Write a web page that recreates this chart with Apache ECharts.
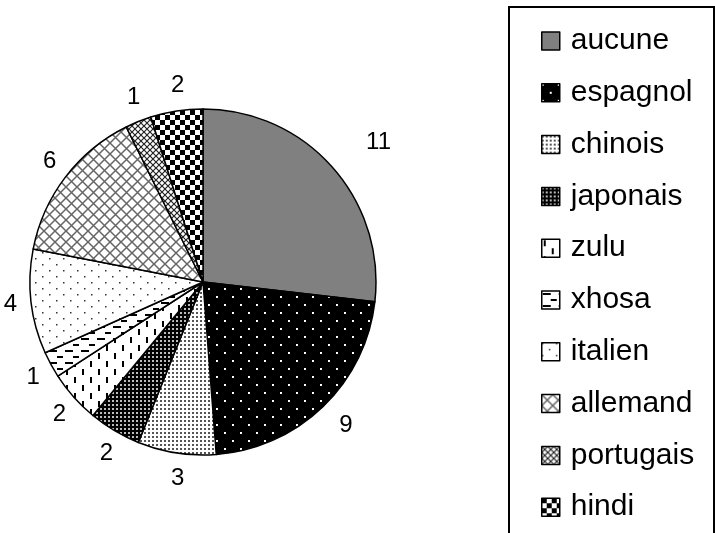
<!DOCTYPE html>
<html>
<head>
<meta charset="utf-8">
<script src="https://cdn.jsdelivr.net/npm/echarts@6/dist/echarts.min.js"></script>
<style>
  html, body { margin: 0; padding: 0; background: #fff; }
  #chart { width: 715px; height: 533px; }
</style>
</head>
<body>
<div id="chart"></div>
<script>
// langues et nombre d'eleves
const languages = ['aucune', 'espagnol', 'chinois', 'japonais', 'zulu', 'xhosa', 'italien', 'allemand', 'portugais', 'hindi']
const counts = [11, 9, 3, 2, 2, 1, 4, 6, 1, 2]

// petites tuiles de motif (style noir et blanc)
function makePattern(w, h, bg, draw) {
  let c = document.createElement('canvas')
  c.width = w
  c.height = h
  let ctx = c.getContext('2d')
  ctx.fillStyle = bg
  ctx.fillRect(0, 0, w, h)
  if (draw) draw(ctx)
  return { image: c, repeat: 'repeat' }
}

const patterns = [
  // aucune : gris plein
  '#808080',
  // espagnol : noir, points blancs espaces
  makePattern(16, 16, '#000', ctx => {
    ctx.fillStyle = '#fff'
    ctx.fillRect(0, 0, 2, 2)
    ctx.fillRect(8, 8, 2, 2)
  }),
  // chinois : blanc, points gris serres
  makePattern(4, 4, '#fff', ctx => {
    ctx.fillStyle = '#555'
    ctx.fillRect(0, 0, 2, 2)
  }),
  // japonais : noir, points blancs serres
  makePattern(4, 4, '#000', ctx => {
    ctx.fillStyle = '#bbb'
    ctx.fillRect(0, 0, 2, 2)
  }),
  // zulu : tirets verticaux
  makePattern(16, 16, '#fff', ctx => {
    ctx.fillStyle = '#000'
    ctx.fillRect(2, 1, 2, 6)
    ctx.fillRect(10, 9, 2, 6)
  }),
  // xhosa : tirets horizontaux
  makePattern(16, 12, '#fff', ctx => {
    ctx.fillStyle = '#000'
    ctx.fillRect(1, 2, 8, 2)
    ctx.fillRect(9, 8, 6, 2)
  }),
  // italien : petits points clairsemes
  makePattern(14, 12, '#fff', ctx => {
    ctx.fillStyle = '#333'
    ctx.fillRect(0, 0, 1.5, 1.5)
    ctx.fillRect(7, 6, 1.5, 1.5)
  }),
  // allemand : quadrillage diagonal gris
  makePattern(11, 11, '#fff', ctx => {
    ctx.strokeStyle = '#666'
    ctx.lineWidth = 1.5
    ctx.beginPath()
    ctx.moveTo(0, 0); ctx.lineTo(11, 11)
    ctx.moveTo(11, 0); ctx.lineTo(0, 11)
    ctx.stroke()
  }),
  // portugais : quadrillage diagonal fin
  makePattern(6, 6, '#fff', ctx => {
    ctx.strokeStyle = '#222'
    ctx.lineWidth = 1.2
    ctx.beginPath()
    ctx.moveTo(0, 0); ctx.lineTo(6, 6)
    ctx.moveTo(6, 0); ctx.lineTo(0, 6)
    ctx.stroke()
  }),
  // hindi : damier
  makePattern(10, 10, '#fff', ctx => {
    ctx.fillStyle = '#000'
    ctx.fillRect(0, 0, 5, 5)
    ctx.fillRect(5, 5, 5, 5)
  })
]

const pieData = languages.map((name, i) => ({
  name: name,
  value: counts[i],
  itemStyle: { color: patterns[i] }
}))

// etiquettes : la plus grosse part a son etiquette un peu plus loin (comme Excel)
const labelData = languages.map((name, i) => {
  let item = { name: name, value: counts[i] }
  if (i === 0) item.label = { offset: [22, -7] }
  return item
})

const chart = echarts.init(document.getElementById('chart'))
chart.setOption({
  animation: false,
  backgroundColor: '#fff',
  textStyle: { fontFamily: 'Liberation Sans, Arial, sans-serif' },
  // cadre de la legende
  graphic: [{
    type: 'rect',
    shape: { x: 509, y: 7, width: 205, height: 540 },
    style: { fill: 'none', stroke: '#000', lineWidth: 2 },
    silent: true
  }],
  legend: {
    orient: 'vertical',
    left: 536,
    top: 21,
    icon: 'rect',
    itemWidth: 18,
    itemHeight: 18,
    itemGap: 21.8,
    data: languages,
    itemStyle: { borderColor: '#000', borderWidth: 1.5 },
    textStyle: {
      fontSize: 30,
      lineHeight: 30,
      color: '#000',
      padding: [0, 0, 0, 6],
      fontFamily: 'Liberation Sans, Arial, sans-serif'
    }
  },
  series: [
    {
      type: 'pie',
      center: [203, 282],
      radius: 173,
      startAngle: 90,
      clockwise: true,
      data: pieData,
      label: { show: false },
      labelLine: { show: false },
      itemStyle: { borderColor: '#000', borderWidth: 1.5 },
      emphasis: { disabled: true }
    },
    {
      // anneau invisible qui porte les etiquettes
      type: 'pie',
      center: [208, 282],
      radius: [184, 208],
      startAngle: 90,
      clockwise: true,
      silent: true,
      legendHoverLink: false,
      data: labelData,
      itemStyle: { color: 'rgba(0,0,0,0)', borderWidth: 0 },
      label: {
        show: true,
        position: 'inside',
        formatter: '{c}',
        fontSize: 24,
        color: '#000',
        fontFamily: 'Liberation Sans, Arial, sans-serif'
      },
      labelLine: { show: false },
      emphasis: { disabled: true }
    }
  ]
})
</script>
</body>
</html>
